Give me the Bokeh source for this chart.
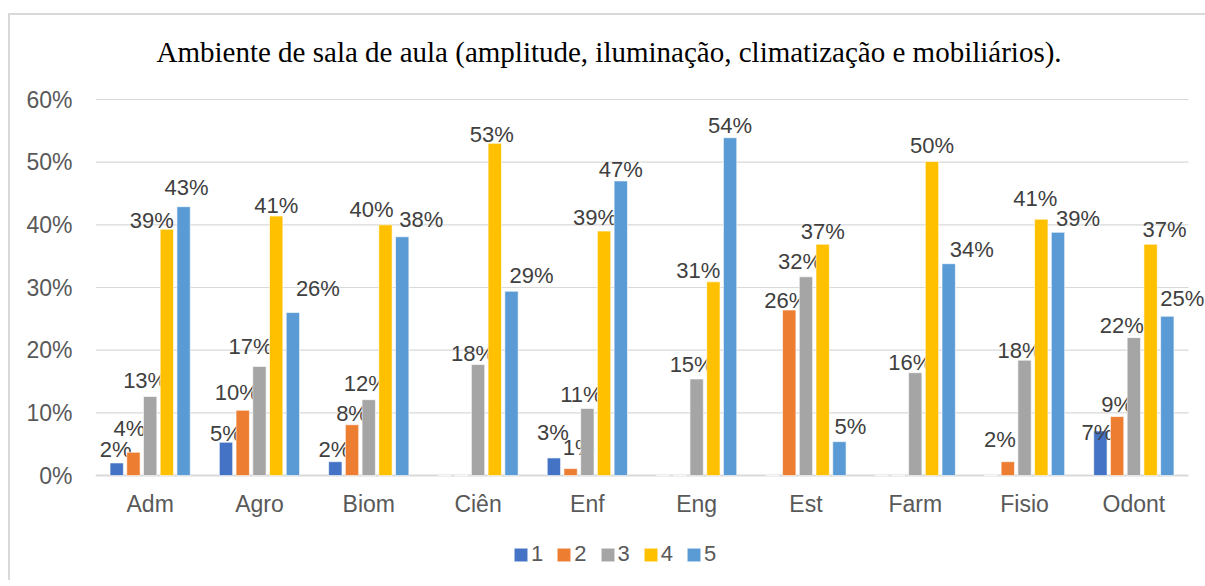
from bokeh.plotting import figure
from bokeh.models import (Range1d, NumeralTickFormatter, FixedTicker, Legend, LegendItem, Title)
from bokeh.core.properties import value
from bokeh.embed import file_html
from bokeh.resources import INLINE

# ---------------- data ----------------
categories = ["Adm", "Agro", "Biom", "Ciên", "Enf", "Eng", "Est", "Farm", "Fisio", "Odont"]
series_names = ["1", "2", "3", "4", "5"]
s1 = [0.020, 0.053, 0.022, 0.000, 0.028, 0.000, 0.000, 0.000, 0.000, 0.071]
s2 = [0.037, 0.104, 0.081, 0.000, 0.011, 0.000, 0.264, 0.000, 0.022, 0.094]
s3 = [0.126, 0.174, 0.121, 0.177, 0.107, 0.154, 0.317, 0.164, 0.184, 0.220]
s4 = [0.393, 0.414, 0.400, 0.530, 0.390, 0.309, 0.369, 0.501, 0.409, 0.369]
s5 = [0.429, 0.260, 0.381, 0.294, 0.470, 0.539, 0.054, 0.338, 0.388, 0.254]
series = [s1, s2, s3, s4, s5]
y_ticks = [0.0, 0.1, 0.2, 0.3, 0.4, 0.5, 0.6]
title_text = "Ambiente de sala de aula (amplitude, iluminação, climatização e mobiliários)."

# ---------------- layout / style ----------------
colors = ["#4472C4", "#ED7D31", "#A5A5A5", "#FFC000", "#5B9BD5"]
bar_step = 0.153
bar_width = 0.122
# manual label nudges (px) per series / category, as hand-placed in the original
label_dx = [
    [-1, 0, -1, 0, -1, 0, 0, 0, 0, -3],
    [-4, -6, 0, 0, 8, 0, -3, 0, -8, 0],
    [-5, -9, -3, -5, -6, -5, -6, -5, -5, -12],
    [-15, 0, -14, -3, -9, -15, 0, 0, -6, 14],
    [3, 25, 19, 20, 0, 0, 11, 23, 20, 15],
]
label_gap = [
    [5, 1, 4, 0, 17, 0, 0, 0, 0, -9],
    [16, 10, 3, 0, 13, 0, 2, 0, 14, 4],
    [8, 12, 8, 3, 6, 6, 7, 2, 2, 4],
    [1, 3, 7, 1, 6, 3, 5, 8, 13, 7],
    [11, 16, 9, 8, 3, 4, 7, 6, 6, 10],
]
label_lift = 8                    # baseline correction (px)

W, H = 1205, 580
FL, FT = 95, 97                   # frame left / top (px); frame runs to the right and bottom edge
ZERO_Y = 475                      # pixel row of 0 %
PX_60 = 376                       # pixels between 0 % and 60 %
px_per_cat = 109.3
n = len(categories)
x_end = (W - FL) / px_per_cat
u = 0.6 / PX_60                   # data units per pixel
y_start = -(H - ZERO_Y) * u
y_end = 0.6 + (ZERO_Y - PX_60 - FT) * u

p = figure(width=W, height=H, x_range=Range1d(0, x_end), y_range=Range1d(y_start, y_end),
           output_backend="svg", toolbar_location=None,
           min_border_left=FL, min_border_right=0, min_border_top=FT, min_border_bottom=0)
p.outline_line_color = None
p.background_fill_color = "white"
p.border_fill_color = None
line_bg = "linear-gradient(#d9d9d9,#d9d9d9)"
p.styles = {
    "background": (f"{line_bg} 8px 13px / 2px calc(100% - 13px) no-repeat, "
                   f"{line_bg} 8px 13px / calc(100% - 8px) 2px no-repeat, white")
}

font = "Liberation Sans"

p.title = Title(text=title_text, align="left", offset=61, standoff=58, vertical_align="middle",
                text_font="Liberation Serif", text_font_size="29px",
                text_font_style="normal", text_color="#000000")

# y axis
p.yaxis.ticker = FixedTicker(ticks=y_ticks)
p.yaxis.formatter = NumeralTickFormatter(format="0%")
p.yaxis.axis_line_color = None
p.yaxis.major_tick_line_color = None
p.yaxis.minor_tick_line_color = None
p.yaxis.major_tick_out = 0
p.yaxis.major_tick_in = 0
p.yaxis.major_label_standoff = 23
p.yaxis.major_label_text_font = font
p.yaxis.major_label_text_font_size = "23px"
p.yaxis.major_label_text_color = "#595959"

p.xaxis.visible = False
p.xgrid.grid_line_color = None
p.ygrid.grid_line_color = None

centers = [i + 0.5 for i in range(n)]

# horizontal gridlines across the category area
p.segment(x0=[0] * len(y_ticks), x1=[n] * len(y_ticks), y0=y_ticks, y1=y_ticks,
          line_color="#d9d9d9", line_width=[1.8] + [1.1] * (len(y_ticks) - 1))

# category labels under the baseline
p.text(x=centers, y=[0] * n, text=categories, y_offset=28,
       text_align="center", text_baseline="middle",
       text_font=value(font), text_font_size="23px", text_color="#595959")

items = []
for j, vals in enumerate(series):
    off = (j - 2) * bar_step
    xs = [c + off for c in centers]
    r = p.vbar(x=xs, top=vals, width=bar_width, bottom=0,
               fill_color=colors[j], line_color="white", line_width=0.6)
    items.append(LegendItem(label=series_names[j], renderers=[r]))
    lx, lv, lt, ldx, ldy = [], [], [], [], []
    for i, v in enumerate(vals):
        if v > 0:
            lx.append(xs[i])
            lv.append(v)
            lt.append(f"{round(v * 100)}%")
            ldx.append(label_dx[j][i])
            ldy.append(-(label_gap[j][i] + label_lift))
    p.text(x=lx, y=lv, text=lt, x_offset=ldx, y_offset=ldy,
           text_align="center", text_baseline="alphabetic",
           text_font=value(font), text_font_size="22px", text_color="#404040")

legend = Legend(items=items, orientation="horizontal", location=(417, 13),
                glyph_width=17, glyph_height=17, label_standoff=2, spacing=12, label_width=8,
                padding=0, margin=0, border_line_color=None, background_fill_alpha=0,
                label_text_font=font, label_text_font_size="22px", label_text_color="#595959")
p.add_layout(legend, "center")

open("out.html", "w").write(file_html(p, INLINE))
